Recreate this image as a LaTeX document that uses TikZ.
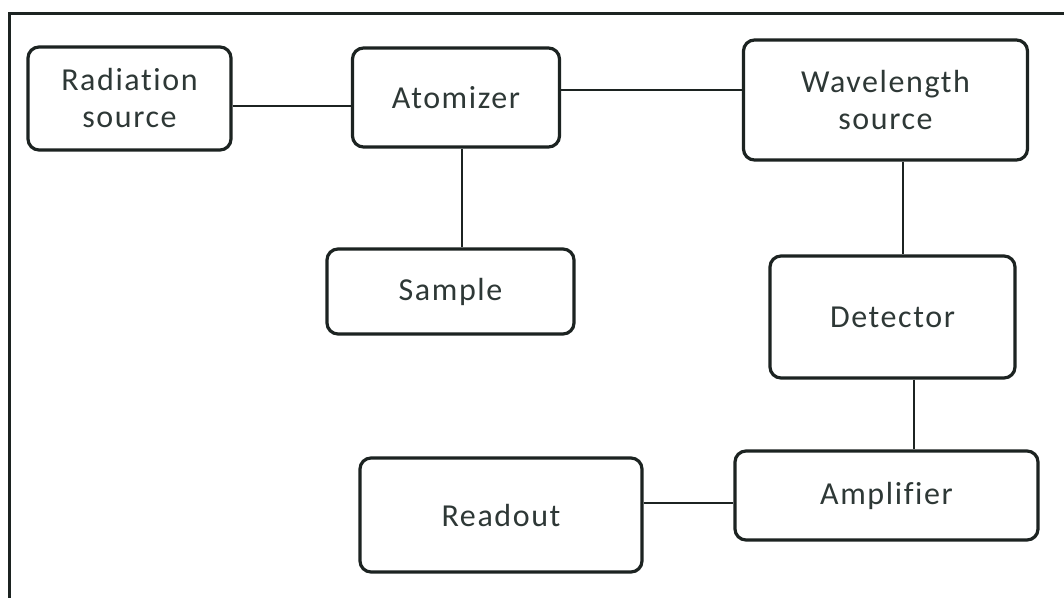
\documentclass[tikz,border=0pt]{standalone}
\usepackage{fontspec}
\setmainfont{Carlito}[LetterSpace=5, Ligatures={NoCommon}]
\definecolor{ink}{HTML}{1C2321}
\definecolor{txt}{HTML}{2E3836}
\tikzset{
  blk/.style={draw=ink, line width=3.2pt, rounded corners=11pt, inner sep=0pt,
    text=txt, align=center, font=\fontsize{32}{37}\selectfont},
  link/.style={draw=ink, line width=1.4pt}
}
\begin{document}
\begin{tikzpicture}[x=1pt, y=-1pt]
\useasboundingbox (0,0) rectangle (1064,597);
\fill[white] (0,0) rectangle (1064,597);
% outer frame, running off the right and bottom edges
\begin{scope}
\clip (0,0) rectangle (1064,597);
\draw[ink, line width=3pt] (9,640) -- (9,13) -- (1100,13);
\end{scope}

% blocks
\node[blk, minimum width=203pt, minimum height=103pt] (rad)  at (129.5,98.5) {Radiation\\source};
\node[blk, minimum width=207pt, minimum height=99pt]  (atom) at (456,97.5)   {Atomizer};
\node[blk, minimum width=284pt, minimum height=120pt] (wave) at (885.5,100)  {Wavelength\\source};
\node[blk, minimum width=247pt, minimum height=85pt]  (samp) at (450.5,291.5) {Sample};
\node[blk, minimum width=245pt, minimum height=122pt] (det)  at (892.5,317)  {Detector};
\node[blk, minimum width=303pt, minimum height=89pt]  (amp)  at (886.5,495.5) {Amplifier};
\node[blk, minimum width=282pt, minimum height=114pt] (read) at (501,515)    {Readout};

% connectors
\draw[link] (rad.east |- 0,106) -- (atom.west |- 0,106);
\draw[link] (atom.east |- 0,90) -- (wave.west |- 0,90);
\draw[link] (atom.south -| 462,0) -- (samp.north -| 462,0);
\draw[link] (wave.south -| 903,0) -- (det.north -| 903,0);
\draw[link] (det.south -| 914,0) -- (amp.north -| 914,0);
\draw[link] (read.east |- 0,503) -- (amp.west |- 0,503);
\end{tikzpicture}
\end{document}
